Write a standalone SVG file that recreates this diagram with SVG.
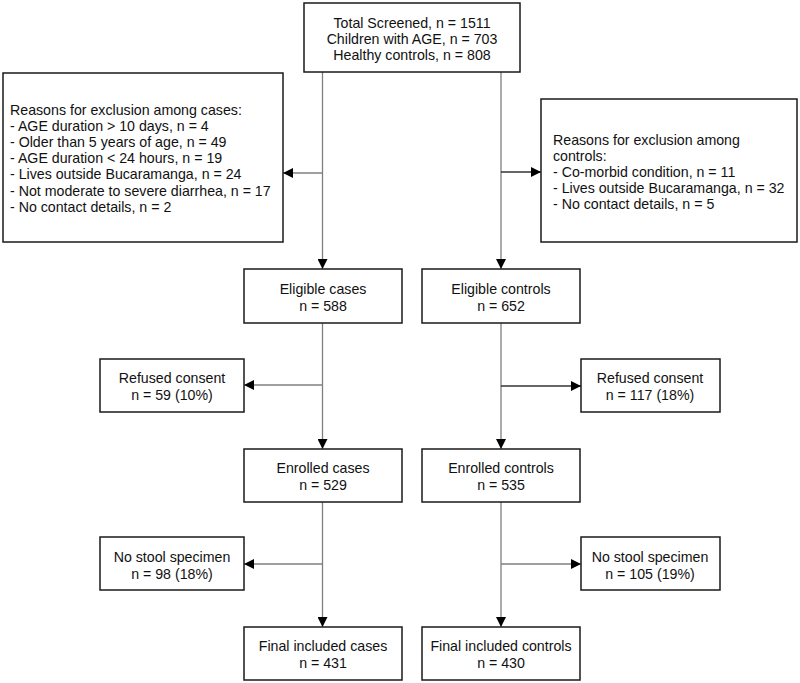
<svg xmlns="http://www.w3.org/2000/svg" width="800" height="683" viewBox="0 0 800 683">
<style>
.box{fill:#fff;stroke:#1a1a1a;stroke-width:1.5}
.t{font-family:"Liberation Sans",Arial,sans-serif;font-size:14.2px;fill:#111}
.c{text-anchor:middle}
.ln{stroke:#7f7f7f;stroke-width:1.3;fill:none}
.dk{stroke:#333}
</style>
<defs>
<marker id="ah" viewBox="0 0 10 10" refX="10" refY="5" markerWidth="10" markerHeight="10" markerUnits="userSpaceOnUse" orient="auto">
<path d="M0,0 L10,5 L0,10 Z" fill="#000"/>
</marker>
</defs>
<g id="connectors">
<path class="ln" d="M322.5,72 V269" marker-end="url(#ah)"/>
<path class="ln" d="M322.5,173 H283" marker-end="url(#ah)"/>
<path class="ln" d="M501,72 V269" marker-end="url(#ah)"/>
<path class="ln dk" d="M501,172 H541" marker-end="url(#ah)"/>
<path class="ln" d="M322.5,323 V449" marker-end="url(#ah)"/>
<path class="ln" d="M322.5,385 H244" marker-end="url(#ah)"/>
<path class="ln" d="M501,323 V449" marker-end="url(#ah)"/>
<path class="ln dk" d="M501,386 H581" marker-end="url(#ah)"/>
<path class="ln" d="M322.5,502 V627" marker-end="url(#ah)"/>
<path class="ln" d="M322.5,564 H244" marker-end="url(#ah)"/>
<path class="ln" d="M501,502 V627" marker-end="url(#ah)"/>
<path class="ln" d="M501,564 H581" marker-end="url(#ah)"/>
</g>
<g id="screened">
<rect class="box" x="304" y="3" width="216" height="69"/>
<text class="t c" x="412" y="28">Total Screened, n = 1511</text>
<text class="t c" x="412" y="44">Children with AGE, n = 703</text>
<text class="t c" x="412" y="60">Healthy controls, n = 808</text>
</g>
<g id="excl-cases">
<rect class="box" x="3" y="73" width="280" height="169"/>
<text class="t" x="10" y="115">Reasons for exclusion among cases:</text>
<text class="t" x="10" y="131">- AGE duration &gt; 10 days, n = 4</text>
<text class="t" x="10" y="147">- Older than 5 years of age, n = 49</text>
<text class="t" x="10" y="163">- AGE duration &lt; 24 hours, n = 19</text>
<text class="t" x="10" y="179">- Lives outside Bucaramanga, n = 24</text>
<text class="t" x="10" y="196">- Not moderate to severe diarrhea, n = 17</text>
<text class="t" x="10" y="212">- No contact details, n = 2</text>
</g>
<g id="excl-controls">
<rect class="box" x="541" y="99" width="256" height="143"/>
<text class="t" x="553" y="145">Reasons for exclusion among</text>
<text class="t" x="553" y="161">controls:</text>
<text class="t" x="553" y="177">- Co-morbid condition, n = 11</text>
<text class="t" x="553" y="193">- Lives outside Bucaramanga, n = 32</text>
<text class="t" x="553" y="209">- No contact details, n = 5</text>
</g>
<g id="eligible-cases">
<rect class="box" x="244" y="269" width="158" height="54"/>
<text class="t c" x="323" y="294">Eligible cases</text>
<text class="t c" x="323" y="311">n = 588</text>
</g>
<g id="eligible-controls">
<rect class="box" x="422" y="269" width="158" height="54"/>
<text class="t c" x="501" y="294">Eligible controls</text>
<text class="t c" x="501" y="311">n = 652</text>
</g>
<g id="refused-cases">
<rect class="box" x="100" y="359" width="144" height="53"/>
<text class="t c" x="172" y="383">Refused consent</text>
<text class="t c" x="172" y="400">n = 59 (10%)</text>
</g>
<g id="refused-controls">
<rect class="box" x="581" y="359" width="139" height="53"/>
<text class="t c" x="650" y="383">Refused consent</text>
<text class="t c" x="650" y="400">n = 117 (18%)</text>
</g>
<g id="enrolled-cases">
<rect class="box" x="244" y="449" width="158" height="53"/>
<text class="t c" x="323" y="473">Enrolled cases</text>
<text class="t c" x="323" y="490">n = 529</text>
</g>
<g id="enrolled-controls">
<rect class="box" x="422" y="449" width="158" height="53"/>
<text class="t c" x="501" y="473">Enrolled controls</text>
<text class="t c" x="501" y="490">n = 535</text>
</g>
<g id="nostool-cases">
<rect class="box" x="100" y="537" width="144" height="53"/>
<text class="t c" x="172" y="562">No stool specimen</text>
<text class="t c" x="172" y="579">n = 98 (18%)</text>
</g>
<g id="nostool-controls">
<rect class="box" x="581" y="537" width="139" height="53"/>
<text class="t c" x="650" y="562">No stool specimen</text>
<text class="t c" x="650" y="579">n = 105 (19%)</text>
</g>
<g id="final-cases">
<rect class="box" x="244" y="627" width="158" height="53"/>
<text class="t c" x="323" y="651">Final included cases</text>
<text class="t c" x="323" y="668">n = 431</text>
</g>
<g id="final-controls">
<rect class="box" x="422" y="627" width="158" height="53"/>
<text class="t c" x="501" y="651">Final included controls</text>
<text class="t c" x="501" y="668">n = 430</text>
</g>
</svg>
